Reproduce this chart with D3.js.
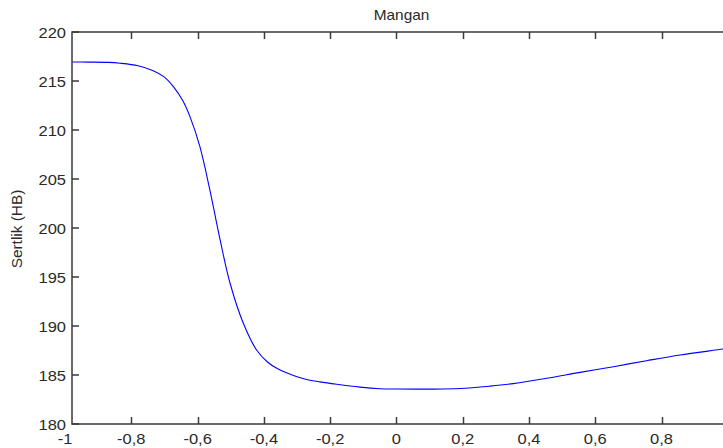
<!DOCTYPE html>
<html>
<head>
<meta charset="utf-8">
<script src="https://cdn.jsdelivr.net/npm/d3@7"></script>
<style>
  html, body { margin: 0; padding: 0; background: #fff; }
  svg { display: block; }
  text { font-family: "Liberation Sans", Arial, sans-serif; fill: #2a2a2a; }
</style>
</head>
<body>
<svg id="chart" width="723" height="448"></svg>
<script>
// Hardness (HB) profile across the normalised position
const positions = [-0.979, -0.93, -0.87, -0.834, -0.78, -0.734, -0.70, -0.673, -0.645, -0.623,
  -0.593, -0.563, -0.532, -0.502, -0.462, -0.422, -0.39, -0.361, -0.311, -0.271, -0.231,
  -0.18, -0.11, -0.05, 0.0, 0.1, 0.192, 0.282, 0.353, 0.454,
  0.554, 0.655, 0.755, 0.856, 0.986, 1.0];
const hardness = [216.94, 216.93, 216.9, 216.81, 216.55, 216.05, 215.4, 214.42, 213.0, 211.36,
  208.30, 203.88, 198.78, 194.36, 190.28, 187.55, 186.35, 185.68, 184.95, 184.55, 184.3,
  184.05, 183.76, 183.6, 183.57, 183.56, 183.62, 183.86, 184.12, 184.66,
  185.27, 185.85, 186.46, 187.04, 187.65, 187.73];

const xTicks = [-1, -0.8, -0.6, -0.4, -0.2, 0, 0.2, 0.4, 0.6, 0.8];
const xTickLabels = ["-1", "-0,8", "-0,6", "-0,4", "-0,2", "0", "0,2", "0,4", "0,6", "0,8"];
const yTicks = [180, 185, 190, 195, 200, 205, 210, 215, 220];
const yTickLabels = ["180", "185", "190", "195", "200", "205", "210", "215", "220"];
const xDomain = [-0.979, 1.0];
const yDomain = [180, 220];
const title = "Mangan";
const yTitle = "Sertlik (HB)";

const svg = d3.select("#chart");
const plotLeft = 72, plotRight = 727.8, plotTop = 32, plotBottom = 424;
const sx = 1.1; // horizontal text stretch

const x = d3.scaleLinear().domain(xDomain).range([plotLeft, plotRight]);
const y = d3.scaleLinear().domain(yDomain).range([plotBottom, plotTop]);

const axisColor = "#3a3a3a";
const tickLen = 7;

// Line
const line = d3.line().x((d, i) => x(positions[i])).y(d => y(d)).curve(d3.curveCatmullRom.alpha(0.5));
svg.append("path")
  .datum(hardness)
  .attr("d", line)
  .attr("fill", "none")
  .attr("stroke", "#0000ff")
  .attr("stroke-width", 1.1);

// Axis box (left, bottom, top)
svg.append("path")
  .attr("d", `M${plotRight},${plotTop}H${plotLeft}V${plotBottom}H${plotRight}`)
  .attr("fill", "none")
  .attr("stroke", axisColor)
  .attr("stroke-width", 1.5);

// X ticks (inward, bottom and top)
const inX = xTicks.filter(v => v >= xDomain[0] && v <= xDomain[1]);
svg.append("g").selectAll("line").data(inX).join("line")
  .attr("x1", d => Math.round(x(d)) + 0.5).attr("x2", d => Math.round(x(d)) + 0.5)
  .attr("y1", plotBottom).attr("y2", plotBottom - tickLen)
  .attr("stroke", axisColor).attr("stroke-width", 1.5);
svg.append("g").selectAll("line").data(inX).join("line")
  .attr("x1", d => Math.round(x(d)) + 0.5).attr("x2", d => Math.round(x(d)) + 0.5)
  .attr("y1", plotTop).attr("y2", plotTop + tickLen)
  .attr("stroke", axisColor).attr("stroke-width", 1.5);

// Y ticks (inward, left)
svg.append("g").selectAll("line").data(yTicks).join("line")
  .attr("x1", plotLeft).attr("x2", plotLeft + tickLen)
  .attr("y1", d => y(d)).attr("y2", d => y(d))
  .attr("stroke", axisColor).attr("stroke-width", 1.5);

// X tick labels
svg.append("g").selectAll("text").data(xTicks).join("text")
  .attr("transform", d => `translate(${x(d)},444) scale(${sx},1)`)
  .attr("text-anchor", "middle")
  .style("font-size", "15px")
  .text((d, i) => xTickLabels[i]);

// Y tick labels
svg.append("g").selectAll("text").data(yTicks).join("text")
  .attr("transform", d => `translate(66,${y(d) + 5.5}) scale(${sx},1)`)
  .attr("text-anchor", "end")
  .style("font-size", "15px")
  .text((d, i) => yTickLabels[i]);

// Title
svg.append("text")
  .attr("transform", `translate(401.5,20) scale(${sx},1)`)
  .attr("text-anchor", "middle")
  .style("font-size", "14px")
  .text(title);

// Y axis title
svg.append("text")
  .attr("transform", `translate(22,229) rotate(-90) scale(${sx},1)`)
  .attr("text-anchor", "middle")
  .style("font-size", "14px")
  .text(yTitle);
</script>
</body>
</html>
